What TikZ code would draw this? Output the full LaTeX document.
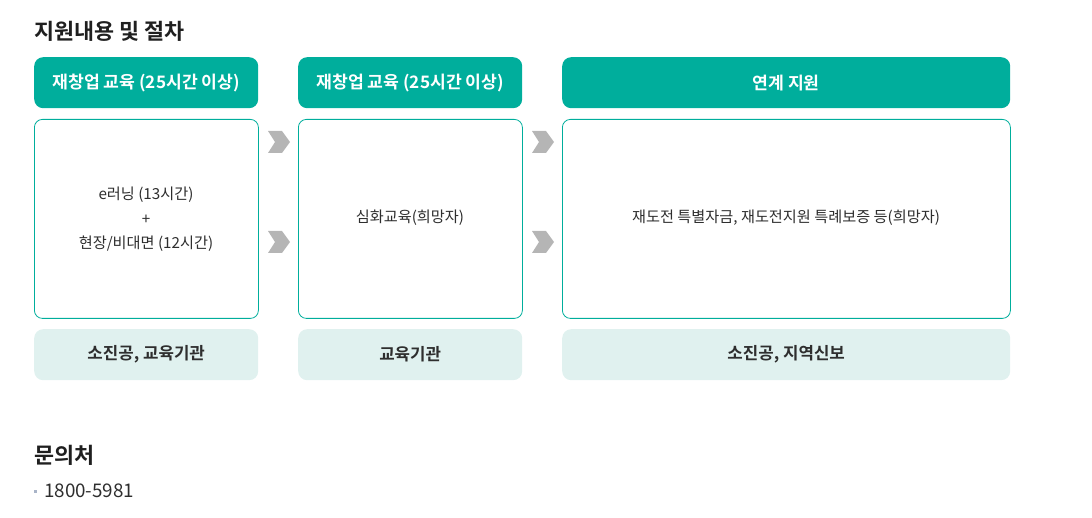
\documentclass[tikz,border=0pt]{standalone}
\usepackage{fontspec}
\setmainfont{Noto Sans CJK KR}[BoldFont={Noto Sans CJK KR Bold}]
\definecolor{teal1}{HTML}{00AE9C}
\definecolor{mint}{HTML}{E0F1EF}
\definecolor{txt}{HTML}{2E2E2E}
\definecolor{chev}{HTML}{B5B5B5}
\definecolor{bul}{HTML}{A9B4C8}
\tikzset{
  hdr/.style={fill=teal1, draw=none, rounded corners=9pt, text=white, font=\fontsize{17.2}{19}\selectfont\bfseries, anchor=north west, inner sep=0pt},
  content/.style={draw=teal1, line width=0.8pt, fill=white, rounded corners=8pt, anchor=north west, inner sep=0pt},
  bodytext/.style={text=txt, font=\fontsize{15.2}{24.5}\selectfont, inner sep=0pt, align=center},
  org/.style={fill=mint, draw=none, rounded corners=9pt, text=txt, font=\fontsize{16.8}{18}\selectfont\bfseries, anchor=north west, inner sep=0pt},
  chevron/.style={fill=chev, draw=none},
  title/.style={text=black!88, font=\fontsize{21.8}{24}\selectfont\bfseries, anchor=west, inner sep=0pt}
}
\begin{document}
\begin{tikzpicture}[x=1pt,y=-1pt]
\useasboundingbox (0,0) rectangle (1092,518);
\node[title] (t1) at (34,31) {지원내용 및 절차};
% headers
\node[hdr, minimum width=224pt, minimum height=51pt] (h1) at (34,57) {재창업 교육 (25시간 이상)};
\node[hdr, minimum width=224pt, minimum height=51pt] (h2) at (298,57) {재창업 교육 (25시간 이상)};
\node[hdr, minimum width=448pt, minimum height=51pt] (h3) at (562,57) {연계 지원};
% content
\node[content, minimum width=224pt, minimum height=199pt] (c1) at (34,119) {};
\node[content, minimum width=224pt, minimum height=199pt] (c2) at (298,119) {};
\node[content, minimum width=448pt, minimum height=199pt] (c3) at (562,119) {};
\node[bodytext] (c1t) at (146,219.5) {e러닝 (13시간)\\+\\현장/비대면 (12시간)};
\node[bodytext] (c2t) at (410,218) {심화교육(희망자)};
\node[bodytext] (c3t) at (786,218) {재도전 특별자금, 재도전지원 특례보증 등(희망자)};
% org
\node[org, minimum width=224pt, minimum height=51pt] (o1) at (34,329) {소진공, 교육기관};
\node[org, minimum width=224pt, minimum height=51pt] (o2) at (298,329) {교육기관};
\node[org, minimum width=448pt, minimum height=51pt] (o3) at (562,329) {소진공, 지역신보};
% chevrons
\foreach \cx/\cy in {268/131, 268/231, 532/131, 532/231}{
  \fill[chevron] (\cx,\cy) -- ++(14,0) -- ++(8,11) -- ++(-8,11) -- ++(-14,0) -- ++(7,-11) -- cycle;
}
% contact
\node[title] (t2) at (34,455) {문의처};
\fill[bul] (34,489.5) rectangle (37,492.5);
\node[text=txt, font=\fontsize{18.8}{20}\selectfont, anchor=west, inner sep=0pt] (ph) at (44,491) {1800-5981};
\end{tikzpicture}
\end{document}
